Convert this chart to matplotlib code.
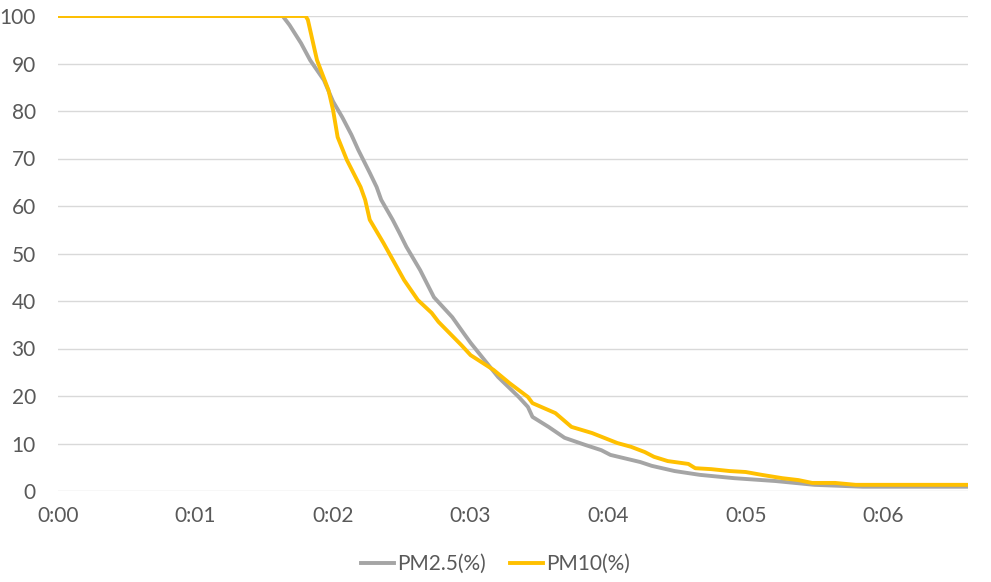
import matplotlib.pyplot as plt
from matplotlib.ticker import FuncFormatter

# elapsed time in seconds, values in %
pm25_t = [0, 98, 101, 106, 110, 116, 120, 124, 128, 131, 136, 139, 141, 146, 149, 152,
          158, 164, 172, 177, 180, 186, 192, 201, 205, 207, 214, 221, 230, 237, 241,
          254, 259, 269, 280, 295, 313, 330, 351, 397]
pm25 = [100, 100, 98.1, 94.3, 90.7, 86.5, 82.0, 78.7, 75.0, 71.8, 67.0, 64.0, 61.3, 57.1,
        54.3, 51.4, 46.5, 40.8, 36.6, 33.2, 31.2, 27.6, 24.0, 19.8, 17.7, 15.6, 13.5,
        11.2, 9.7, 8.6, 7.6, 6.1, 5.3, 4.2, 3.4, 2.7, 2.1, 1.3, 0.9, 0.9]

pm10_t = [0, 108, 109, 112, 113, 118, 120, 122, 126, 132, 134, 136, 142, 151, 157,
          163, 166, 176, 180, 190, 197, 205, 207, 217, 224, 233, 244, 250, 256, 260,
          266, 275, 278, 285, 293, 300, 307, 316, 323, 329, 339, 348, 397]
pm10 = [100, 100, 99.2, 92.8, 90.7, 84.4, 80.2, 74.5, 69.7, 64.0, 61.3, 57.1, 52.2,
        44.4, 40.2, 37.5, 35.6, 30.7, 28.6, 25.5, 22.7, 19.8, 18.5, 16.4, 13.5, 12.2,
        10.1, 9.3, 8.2, 7.2, 6.3, 5.7, 4.8, 4.6, 4.2, 4.0, 3.4, 2.7, 2.3, 1.7, 1.7, 1.3, 1.3]

x_ticks = [0, 60, 120, 180, 240, 300, 360]
y_ticks = [0, 10, 20, 30, 40, 50, 60, 70, 80, 90, 100]

txt = "#595959"
plt.rcParams['font.family'] = ['Lato', 'DejaVu Sans']

fig = plt.figure(figsize=(9.91, 5.82), dpi=100)
ax = fig.add_axes([58 / 991, 1 - 491 / 582, 910 / 991, 475 / 582])

ax.plot(pm25_t, pm25, color="#A5A5A5", lw=2.8, label="PM2.5(%)", solid_joinstyle="round")
ax.plot(pm10_t, pm10, color="#FFC000", lw=2.8, label="PM10(%)", solid_joinstyle="round")

ax.set_xlim(0, 397)
ax.set_ylim(0, 100)
ax.set_xticks(x_ticks)
ax.set_yticks(y_ticks)
ax.xaxis.set_major_formatter(FuncFormatter(lambda v, p: f"{int(v // 3600)}:{int(v // 60) % 60:02d}"))
ax.grid(axis="y", color="#D9D9D9", lw=1)
ax.set_axisbelow(True)
for s in ax.spines.values():
    s.set_visible(False)
ax.tick_params(length=0, labelsize=15, colors=txt)
ax.tick_params(axis="y", pad=16)
ax.tick_params(axis="x", pad=11)

fig.legend(loc="center", bbox_to_anchor=(0.5, 1 - 564 / 582), ncol=2, frameon=False,
           fontsize=15, labelcolor=txt, handlelength=1.55, columnspacing=1.2, handletextpad=0.15)

plt.savefig("out.png", dpi=100)
